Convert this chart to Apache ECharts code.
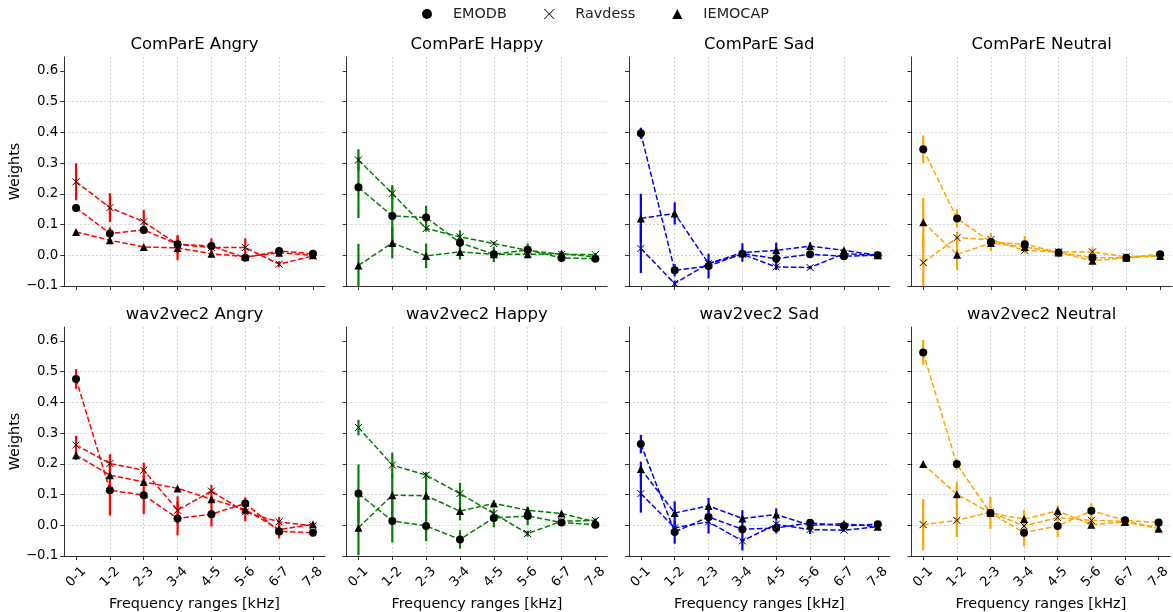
<!DOCTYPE html>
<html><head><meta charset="utf-8">
<script src="https://cdn.jsdelivr.net/npm/echarts@6/dist/echarts.min.js"></script>
<style>html,body{margin:0;padding:0;background:#fff}#c{width:1173px;height:612px}</style>
</head><body><div id="c"></div>
<script>
// ---------- DATA ----------
const categories = ['0-1', '1-2', '2-3', '3-4', '4-5', '5-6', '6-7', '7-8'];
const datasetNames = ['EMODB', 'Ravdess', 'IEMOCAP'];
const panelTitles = ['ComParE Angry', 'ComParE Happy', 'ComParE Sad', 'ComParE Neutral',
                     'wav2vec2 Angry', 'wav2vec2 Happy', 'wav2vec2 Sad', 'wav2vec2 Neutral'];
const yTicks = [-0.1, 0, 0.1, 0.2, 0.3, 0.4, 0.5, 0.6];

// rows: EMODB, Ravdess, IEMOCAP
const compareAngry = [
  [0.154, 0.071, 0.082, 0.036, 0.030, -0.008, 0.014, 0.005],
  [0.239, 0.155, 0.109, 0.035, 0.025, 0.025, -0.029, -0.002],
  [0.076, 0.049, 0.027, 0.024, 0.005, -0.005, 0.008, 0.000]];
const compareAngryErr = [
  [0.010, 0.020, 0.010, 0.010, 0.010, 0.010, 0.005, 0.005],
  [0.060, 0.047, 0.038, 0.030, 0.030, 0.030, 0.010, 0.005],
  [0.005, 0.010, 0.005, 0.040, 0.010, 0.005, 0.005, 0.005]];

const compareHappy = [
  [0.221, 0.128, 0.123, 0.041, 0.003, 0.018, -0.009, -0.011],
  [0.310, 0.201, 0.087, 0.060, 0.038, 0.016, 0.003, 0.002],
  [-0.033, 0.040, -0.002, 0.011, 0.003, 0.003, 0.005, -0.005]];
const compareHappyErr = [
  [0.100, 0.100, 0.038, 0.040, 0.010, 0.020, 0.005, 0.005],
  [0.035, 0.020, 0.010, 0.010, 0.005, 0.010, 0.005, 0.005],
  [0.070, 0.050, 0.040, 0.025, 0.025, 0.010, 0.010, 0.005]];

const compareSad = [
  [0.397, -0.049, -0.035, 0.005, -0.011, 0.003, -0.003, 0.000],
  [0.022, -0.092, -0.027, 0.003, -0.038, -0.040, 0.005, 0.000],
  [0.120, 0.136, -0.027, 0.009, 0.016, 0.030, 0.016, 0.000]];
const compareSadErr = [
  [0.018, 0.020, 0.040, 0.010, 0.020, 0.010, 0.005, 0.005],
  [0.080, 0.010, 0.010, 0.010, 0.010, 0.005, 0.005, 0.005],
  [0.080, 0.036, 0.010, 0.030, 0.025, 0.012, 0.005, 0.005]];

const compareNeutral = [
  [0.345, 0.120, 0.043, 0.036, 0.009, -0.008, -0.008, 0.003],
  [-0.024, 0.057, 0.051, 0.016, 0.011, 0.011, -0.005, -0.002],
  [0.107, 0.002, 0.040, 0.027, 0.009, -0.018, -0.008, -0.002]];
const compareNeutralErr = [
  [0.045, 0.030, 0.030, 0.027, 0.010, 0.010, 0.005, 0.005],
  [0.085, 0.020, 0.010, 0.010, 0.010, 0.015, 0.005, 0.005],
  [0.080, 0.050, 0.010, 0.010, 0.010, 0.010, 0.005, 0.005]];

const w2vAngry = [
  [0.476, 0.114, 0.098, 0.022, 0.036, 0.071, -0.020, -0.024],
  [0.261, 0.201, 0.179, 0.049, 0.111, 0.043, 0.011, -0.002],
  [0.228, 0.163, 0.141, 0.120, 0.085, 0.051, -0.014, 0.003]];
const w2vAngryErr = [
  [0.032, 0.082, 0.062, 0.055, 0.040, 0.020, 0.023, 0.005],
  [0.030, 0.030, 0.025, 0.045, 0.020, 0.030, 0.016, 0.005],
  [0.016, 0.010, 0.010, 0.005, 0.010, 0.010, 0.005, 0.005]];

const w2vHappy = [
  [0.103, 0.014, -0.002, -0.046, 0.024, 0.030, 0.009, 0.002],
  [0.318, 0.196, 0.163, 0.103, 0.038, -0.027, 0.013, 0.016],
  [-0.008, 0.098, 0.096, 0.046, 0.071, 0.049, 0.038, 0.011]];
const w2vHappyErr = [
  [0.095, 0.070, 0.050, 0.030, 0.030, 0.030, 0.010, 0.005],
  [0.025, 0.040, 0.010, 0.035, 0.010, 0.010, 0.005, 0.005],
  [0.090, 0.070, 0.060, 0.030, 0.010, 0.010, 0.005, 0.005]];

const w2vSad = [
  [0.264, -0.022, 0.027, -0.013, -0.009, 0.008, -0.002, 0.003],
  [0.103, -0.008, 0.011, -0.051, 0.003, -0.014, -0.016, -0.005],
  [0.183, 0.040, 0.063, 0.022, 0.035, 0.000, 0.005, -0.005]];
const w2vSadErr = [
  [0.030, 0.038, 0.010, 0.010, 0.018, 0.005, 0.005, 0.005],
  [0.062, 0.010, 0.038, 0.031, 0.010, 0.015, 0.005, 0.005],
  [0.024, 0.038, 0.026, 0.027, 0.020, 0.005, 0.005, 0.005]];

const w2vNeutral = [
  [0.562, 0.199, 0.040, -0.024, -0.002, 0.047, 0.016, 0.009],
  [0.002, 0.016, 0.043, -0.002, 0.025, 0.016, 0.013, -0.008],
  [0.199, 0.101, 0.040, 0.020, 0.047, 0.002, 0.011, -0.011]];
const w2vNeutralErr = [
  [0.040, 0.018, 0.052, 0.045, 0.036, 0.025, 0.005, 0.005],
  [0.083, 0.054, 0.010, 0.010, 0.010, 0.010, 0.010, 0.005],
  [0.010, 0.040, 0.010, 0.030, 0.018, 0.005, 0.005, 0.005]];

const panelValues = [compareAngry, compareHappy, compareSad, compareNeutral,
                     w2vAngry, w2vHappy, w2vSad, w2vNeutral];
const panelErrors = [compareAngryErr, compareHappyErr, compareSadErr, compareNeutralErr,
                     w2vAngryErr, w2vHappyErr, w2vSadErr, w2vNeutralErr];

// ---------- STYLE / LAYOUT ----------
const emotionColors = ['#ff0000', '#008000', '#0000ff', '#ffa500'];
const crossPath = 'path://M0,0L10,10M0,10L10,0';
const symbols = ['circle', crossPath, 'triangle'];
const FONT = 'DejaVu Sans';
const gridLeft0 = 64.2, gridPitch = 282.4, gridWidth = 260.6;
const rowTops = [57, 327], gridHeight = 229;

const grids = [], xAxes = [], yAxes = [], series = [], graphics = [];
const dash = { color: '#c8c8c8', type: [2, 2], width: 0.8 };

for (let p = 0; p < 8; p++) {
  const row = Math.floor(p / 4), col = p % 4;
  const left = gridLeft0 + col * gridPitch;
  grids.push({ left: left, top: rowTops[row], width: gridWidth, height: gridHeight });
  graphics.push({
    type: 'text', x: left + gridWidth / 2, y: rowTops[row] - 12,
    style: { text: panelTitles[p], font: '16.5px "DejaVu Sans"', fill: '#000', align: 'center', verticalAlign: 'middle' }
  });
  xAxes.push({
    type: 'value', gridIndex: p, min: -0.35, max: 7.35, splitNumber: 8,
    axisLine: { onZero: false, lineStyle: { color: '#000', width: 0.8 } },
    axisTick: { show: true, customValues: categories.map((c, i) => i), length: 4, lineStyle: { color: '#000', width: 0.8 } },
    axisLabel: {
      show: row === 1, customValues: categories.map((c, i) => i),
      formatter: v => categories[Math.round(v)], rotate: 45, align: 'center', verticalAlign: 'middle',
      margin: 21, fontSize: 13.3, color: '#000', fontFamily: FONT
    },
    splitLine: { show: true, showMinLine: false, showMaxLine: false, lineStyle: dash },
    name: row === 1 ? 'Frequency ranges [kHz]' : '', nameLocation: 'middle', nameGap: 41,
    nameTextStyle: { fontSize: 14.4, color: '#000', fontFamily: FONT }
  });
  yAxes.push({
    type: 'value', gridIndex: p, min: -0.1, max: 0.645, interval: 0.1,
    axisLine: { show: true, onZero: false, lineStyle: { color: '#000', width: 0.8 } },
    axisTick: { show: true, customValues: yTicks, length: 4, lineStyle: { color: '#000', width: 0.8 } },
    axisLabel: {
      show: col === 0, customValues: yTicks, margin: 6,
      formatter: v => (v < 0 ? '\u2212' : '') + Math.abs(v).toFixed(1),
      fontSize: 13.3, color: '#000', fontFamily: FONT
    },
    splitLine: { show: true, showMinLine: true, showMaxLine: false, lineStyle: dash },
    name: col === 0 ? 'Weights' : '', nameLocation: 'middle', nameGap: 38,
    nameTextStyle: { fontSize: 14.4, color: '#000', fontFamily: FONT }
  });

  const color = emotionColors[col];
  for (let s = 0; s < 3; s++) {
    const vals = panelValues[p][s], errs = panelErrors[p][s];
    series.push({
      type: 'custom', name: datasetNames[s] + ' err', xAxisIndex: p, yAxisIndex: p, z: 2,
      encode: { x: 0, y: [1, 2] },
      data: categories.map((c, i) => [i, vals[i] - errs[i], vals[i] + errs[i]]),
      renderItem: (params, api) => {
        const cs = params.coordSys;
        const a = api.coord([api.value(0), api.value(1)]);
        const b = api.coord([api.value(0), api.value(2)]);
        const clamp = y => Math.max(cs.y, Math.min(cs.y + cs.height, y));
        return { type: 'line', shape: { x1: a[0], y1: clamp(a[1]), x2: b[0], y2: clamp(b[1]) },
                 style: { stroke: color, lineWidth: 2.2 } };
      }
    });
    series.push({
      type: 'line', name: datasetNames[s], xAxisIndex: p, yAxisIndex: p, z: 3,
      data: categories.map((c, i) => [i, vals[i]]),
      symbol: symbols[s], symbolSize: s === 1 ? 7 : 8, showAllSymbol: true,
      lineStyle: { color: color, width: 1.5, type: [5.5, 2.4] },
      itemStyle: s === 1 ? { color: '#000', borderColor: '#000', borderWidth: 1 } : { color: '#000', borderWidth: 0 },
      emphasis: { disabled: true }
    });
  }
}

const chart = echarts.init(document.getElementById('c'));
chart.setOption({
  animation: false,
  textStyle: { fontFamily: FONT },
  legend: {
    top: 7, left: 422, padding: 0, itemWidth: 10, itemHeight: 10, itemGap: 37,
    textStyle: { fontSize: 14.4, color: '#222', fontFamily: FONT, padding: [0, 0, 0, 16] },
    data: [
      { name: 'EMODB', icon: 'circle', itemStyle: { color: '#000', borderWidth: 0 } },
      { name: 'Ravdess', icon: crossPath, itemStyle: { color: '#000', borderColor: '#000', borderWidth: 1 } },
      { name: 'IEMOCAP', icon: 'triangle', itemStyle: { color: '#000', borderWidth: 0 } }
    ]
  },
  grid: grids, xAxis: xAxes, yAxis: yAxes, series: series, graphic: graphics
});
</script></body></html>
